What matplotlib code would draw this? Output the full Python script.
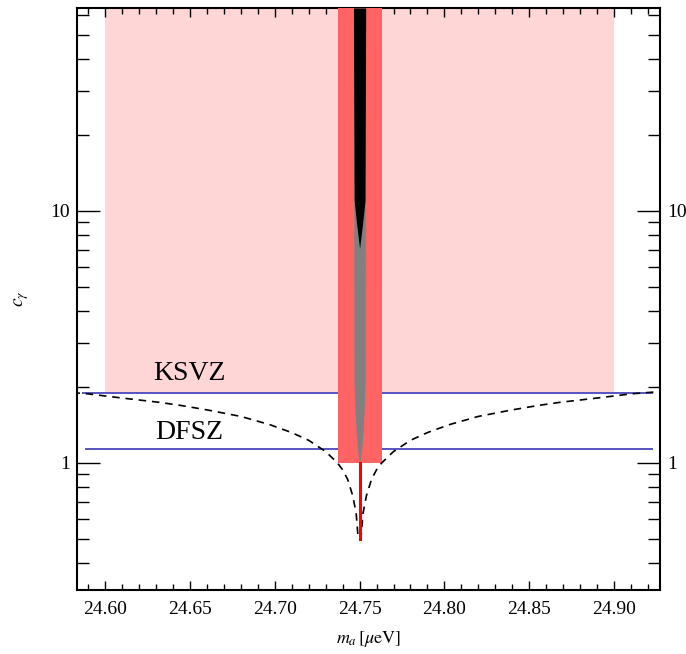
import matplotlib
matplotlib.use("Agg")
import matplotlib.pyplot as plt
import matplotlib.ticker as mticker
import numpy as np

plt.rcParams['font.family'] = ['Liberation Serif', 'DejaVu Serif']
plt.rcParams['mathtext.fontset'] = 'stix'

# resonance centre and the values
m0 = 24.75
scan_lo, scan_hi = 24.60, 24.90          # light pink scan range
pink_cmin = 1.89
band_half = 0.013                         # red band half width
band_cmin = 1.0

# grey (excluded) inner strip: c values and half widths
grey_c = [63.9, 2.1, 1.7, 1.35, 1.15, 1.05, 1.0]
grey_half = [0.0035, 0.0033, 0.0028, 0.0021, 0.0013, 0.0006, 0.0]
# black strip at the top
black_c = [63.9, 11.0, 8.95, 7.1]
black_half = [0.0036, 0.0032, 0.0018, 0.0]

# red line at the centre
red_c = [0.5, 1.0]

# dashed sensitivity curve: offset from m0 [mueV] and c_gamma
dash_off = [0.0008, 0.002, 0.004, 0.007, 0.010, 0.013, 0.020, 0.030, 0.040,
            0.053, 0.070, 0.089, 0.105, 0.118, 0.140, 0.160, 0.177]
dash_c = [0.50, 0.63, 0.74, 0.86, 0.94, 1.00, 1.11, 1.23, 1.32,
          1.42, 1.53, 1.62, 1.69, 1.74, 1.81, 1.88, 1.92]

# model lines
models = ['KSVZ', 'DFSZ']
model_c = [1.89, 1.133]
model_x0 = [24.587, 24.589]
model_x1 = [24.922, 24.922]
label_xy = [(24.6495, 2.26), (24.6495, 1.316)]

fig = plt.figure(figsize=(6.86, 6.54), dpi=100)
ax = fig.add_axes([0.1122, 0.0979, 0.8499, 0.8899])

ax.fill_between([scan_lo, scan_hi], pink_cmin, 100, color='#ffd6d6', lw=0, zorder=1)
ax.fill_between([m0 - band_half, m0 + band_half], band_cmin, 100,
                color='#ff6464', lw=0, zorder=3)

gc = np.array(grey_c)
gh = np.array(grey_half)
ax.fill_betweenx(gc, m0 - gh, m0 + gh, color='#808080', lw=0, zorder=4)
bc = np.array(black_c)
bh = np.array(black_half)
ax.fill_betweenx(bc, m0 - bh, m0 + bh, color='black', lw=0, zorder=5)

for c, x0, x1 in zip(model_c, model_x0, model_x1):
    ax.plot([x0, x1], [c, c], color='#5555c0', lw=1.4, zorder=2)
for name, (tx, ty) in zip(models, label_xy):
    ax.text(tx, ty, name, fontsize=20, ha='center', va='center', zorder=6)

off = np.array(dash_off)
dc = np.array(dash_c)
xs = np.concatenate([m0 - off[::-1], m0 + off])
cs = np.concatenate([dc[::-1], dc])
ax.plot(xs, cs, color='black', lw=1.2, linestyle=(0, (4.5, 3.5)), zorder=6)

ax.plot([m0, m0], red_c, color='red', lw=2.2, zorder=7)

ax.set_xlim(24.5835, 24.927)
ax.set_yscale('log')
ax.set_ylim(0.3133, 63.9)

ax.xaxis.set_major_locator(mticker.MultipleLocator(0.05))
ax.xaxis.set_minor_locator(mticker.MultipleLocator(0.01))
ax.xaxis.set_major_formatter(mticker.FormatStrFormatter('%.2f'))
ax.yaxis.set_major_locator(mticker.FixedLocator([1, 10]))
ax.yaxis.set_major_formatter(mticker.FixedFormatter(['1', '10']))
ax.yaxis.set_minor_locator(mticker.LogLocator(base=10, subs=np.arange(2, 10)))
ax.yaxis.set_minor_formatter(mticker.NullFormatter())

ax.tick_params(axis='x', which='major', direction='in', length=6.5, width=1,
               top=True, labelsize=14, pad=8)
ax.tick_params(axis='x', which='minor', direction='in', length=4.3, width=1, top=True)
ax.tick_params(axis='y', which='major', direction='in', length=16.5, width=1,
               right=True, labelright=True, labelsize=14, pad=5)
ax.tick_params(axis='y', which='minor', direction='in', length=8.6, width=1, right=True)
for s in ax.spines.values():
    s.set_linewidth(1.5)

ax.set_xlabel(r'$m_a\,[\mu\mathrm{eV}]$', fontsize=13, labelpad=8)
ax.set_ylabel(r'$c_\gamma$', fontsize=14, labelpad=14)

fig.savefig('out.png', dpi=100)
